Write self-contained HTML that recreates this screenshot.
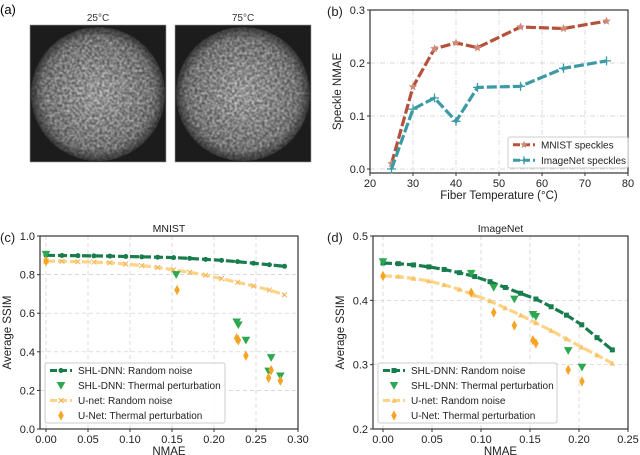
<!DOCTYPE html>
<html><head><meta charset="utf-8">
<style>
html,body{margin:0;padding:0;background:#fff;}
svg{display:block;font-family:"Liberation Sans","DejaVu Sans",sans-serif;}
</style></head>
<body>
<svg id="fig" width="640" height="455" viewBox="0 0 640 455" xmlns="http://www.w3.org/2000/svg">
<defs>
<filter id="speck" x="0" y="0" width="100%" height="100%">
<feTurbulence type="fractalNoise" baseFrequency="0.4" numOctaves="2" seed="3" result="n"/>
<feColorMatrix in="n" type="matrix" values="0 0 0 0 0.85  0 0 0 0 0.85  0 0 0 0 0.85  0 0 0 1.8 -0.55" result="w"/>
<feGaussianBlur in="w" stdDeviation="0.4" result="b"/>
<feComposite in="b" in2="SourceGraphic" operator="in"/>
</filter>
<radialGradient id="glow" cx="0.5" cy="0.5" r="0.5">
<stop offset="0" stop-color="#fff" stop-opacity="1"/>
<stop offset="0.8" stop-color="#fff" stop-opacity="0.7"/>
<stop offset="1" stop-color="#fff" stop-opacity="0.15"/>
</radialGradient>
<radialGradient id="base" cx="0.5" cy="0.5" r="0.5">
<stop offset="0" stop-color="#6a6a6a"/>
<stop offset="0.85" stop-color="#4a4a4a"/>
<stop offset="1" stop-color="#2a2a2a"/>
</radialGradient>
</defs>
<g id="panelA">
<text x="0" y="14" font-size="13">(a)</text>
<text x="98" y="21" font-size="10" text-anchor="middle" fill="#333">25°C</text>
<text x="243" y="21" font-size="10" text-anchor="middle" fill="#333">75°C</text>
<g>
<rect x="30" y="25" width="136" height="137" fill="#1c1c1c" stroke="#999" stroke-width="0.6"/>
<circle cx="98" cy="94" r="67" fill="url(#base)"/>
<circle cx="98" cy="94" r="67" fill="url(#glow)" filter="url(#speck)"/>
</g>
<g>
<rect x="175" y="25" width="136" height="137" fill="#1c1c1c" stroke="#999" stroke-width="0.6"/>
<circle cx="243" cy="94" r="67" fill="url(#base)"/>
<circle cx="243" cy="94" r="67" fill="url(#glow)" filter="url(#speck)"/>
</g>
</g>
</svg>
<script>
// Panel b data
const tempsB = [25,30,35,40,45,55,65,75];
const mnistNmae = [0.01,0.155,0.227,0.238,0.229,0.268,0.265,0.279];
const imagenetNmae = [0.0,0.113,0.134,0.09,0.154,0.156,0.19,0.204];
const xTicksB = [20,30,40,50,60,70,80];
const yTicksB = [0.0,0.1,0.2,0.3];
// Panel c data
const cRandX = [0,0.019,0.038,0.057,0.076,0.095,0.114,0.133,0.152,0.171,0.19,0.209,0.228,0.247,0.266,0.284];
const cShlRand = [0.900,0.899,0.898,0.897,0.896,0.894,0.892,0.89,0.888,0.884,0.879,0.874,0.867,0.859,0.851,0.843];
const cUnetRand = [0.870,0.869,0.867,0.865,0.861,0.855,0.847,0.837,0.825,0.812,0.797,0.779,0.760,0.741,0.720,0.695];
const cThermX = [0,0.155,0.227,0.229,0.238,0.265,0.268,0.279];
const cShlTherm = [0.905,0.80,0.555,0.54,0.46,0.30,0.37,0.275];
const cUnetThermX = [0,0.156,0.227,0.229,0.238,0.265,0.268,0.279];
const cUnetTherm = [0.87,0.72,0.47,0.46,0.38,0.265,0.305,0.25];
const xTicksC = [0,0.05,0.1,0.15,0.2,0.25,0.3];
const yTicksC = [0,0.2,0.4,0.6,0.8,1.0];
// Panel d data
const dRandX = [0,0.0156,0.0312,0.0468,0.0624,0.078,0.0936,0.1092,0.1248,0.1404,0.156,0.1716,0.1872,0.2028,0.2184,0.234];
const dShlRand = [0.458,0.457,0.455,0.452,0.448,0.443,0.437,0.429,0.420,0.411,0.402,0.390,0.377,0.362,0.342,0.323];
const dUnetRand = [0.438,0.437,0.434,0.430,0.424,0.417,0.408,0.399,0.388,0.377,0.365,0.353,0.340,0.327,0.315,0.302];
const dThermX = [0,0.09,0.113,0.134,0.153,0.156,0.189,0.203];
const dShlTherm = [0.46,0.442,0.42,0.402,0.378,0.375,0.322,0.296];
const dUnetTherm = [0.438,0.412,0.381,0.361,0.338,0.333,0.292,0.274];
const xTicksD = [0,0.05,0.1,0.15,0.2,0.25];
const yTicksD = [0.2,0.3,0.4,0.5];

const NS='http://www.w3.org/2000/svg';
const svg=document.getElementById('fig');
function mk(tag,attrs,parent){const e=document.createElementNS(NS,tag);for(const k in attrs)e.setAttribute(k,attrs[k]);(parent||svg).appendChild(e);return e;}
function lin(d0,d1,r0,r1){return v=>r0+(v-d0)/(d1-d0)*(r1-r0);}

function axes(g,p){
  const sx=lin(p.xd[0],p.xd[1],p.x0,p.x1), sy=lin(p.yd[0],p.yd[1],p.y0,p.y1);
  p.xt.forEach(t=>{const X=sx(t);
    const l=mk('line',{x1:X,x2:X,y1:p.top,y2:p.bot,stroke:'#ccc','stroke-width':0.7,'stroke-dasharray':p.dash},g);
    
    mk('line',{x1:X,x2:X,y1:p.bot,y2:p.bot+3,stroke:'#333'},g);
    const tx=mk('text',{x:X,y:p.bot+14,'font-size':11,'text-anchor':'middle',fill:'#222'},g);
    tx.textContent=p.xf(t);
    
  });
  p.yt.forEach(t=>{const Y=sy(t);
    const l=mk('line',{x1:p.left,x2:p.right,y1:Y,y2:Y,stroke:'#ccc','stroke-width':0.7,'stroke-dasharray':p.dash},g);
    
    mk('line',{x1:p.left-3,x2:p.left,y1:Y,y2:Y,stroke:'#333'},g);
    const tx=mk('text',{x:p.left-5,y:Y+4,'font-size':11,'text-anchor':'end',fill:'#222'},g);
    tx.textContent=p.yf(t);
    
  });
  const fr=mk('rect',{x:p.left,y:p.top,width:p.right-p.left,height:p.bot-p.top,fill:'none',stroke:'#333','stroke-width':1.2},g);
  
  const xl=mk('text',{x:(p.left+p.right)/2,y:p.bot+26,'font-size':11.5,'text-anchor':'middle',fill:'#222'},g);
  xl.textContent=p.xlab;
  const yl=mk('text',{x:0,y:0,'font-size':11.5,'text-anchor':'middle',fill:'#222',transform:`translate(${p.left-29},${(p.top+p.bot)/2}) rotate(-90)`},g);
  yl.textContent=p.ylab;
  if(p.title){const t=mk('text',{x:(p.left+p.right)/2,y:p.top-4,'font-size':10.5,'text-anchor':'middle',fill:'#222'},g);
    t.textContent=p.title;}
  const pl=mk('text',{x:p.plx,y:p.top+6,'font-size':13,fill:'#222'},g);
  pl.textContent=p.plab;
  return [sx,sy];
}
function marker(g,type,X,Y,col,s){
  let e;
  if(type==='star'){const pts=[];for(let i=0;i<10;i++){const r=i%2?s*0.45:s;const a=-Math.PI/2+i*Math.PI/5;pts.push((X+r*Math.cos(a)).toFixed(1)+','+(Y+r*Math.sin(a)).toFixed(1));}
    e=mk('polygon',{points:pts.join(' '),fill:col},g);}
  else if(type==='plus'){e=mk('path',{d:`M${X-s},${Y}H${X+s}M${X},${Y-s}V${Y+s}`,stroke:col,'stroke-width':1.3},g);}
  else if(type==='x'){e=mk('path',{d:`M${X-s},${Y-s}L${X+s},${Y+s}M${X-s},${Y+s}L${X+s},${Y-s}`,stroke:col,'stroke-width':1},g);}
  else if(type==='dot'){e=mk('circle',{cx:X,cy:Y,r:s,fill:col},g);}
  else if(type==='sq'){e=mk('rect',{x:X-s,y:Y-s,width:2*s,height:2*s,fill:col},g);}
  else if(type==='tri'){e=mk('polygon',{points:`${X-s},${Y-s*0.8} ${X+s},${Y-s*0.8} ${X},${Y+s}`,fill:col},g);}
  else if(type==='triup'){e=mk('polygon',{points:`${X-s},${Y+s*0.8} ${X+s},${Y+s*0.8} ${X},${Y-s}`,fill:col},g);}
  else if(type==='dia'){e=mk('polygon',{points:`${X},${Y-s*1.4} ${X+s*0.75},${Y} ${X},${Y+s*1.4} ${X-s*0.75},${Y}`,fill:col},g);}
  return e;
}
function series(g,xs,ys,sx,sy,opt){
  if(opt.line){const d=xs.map((x,i)=>(i?'L':'M')+sx(x).toFixed(1)+','+sy(ys[i]).toFixed(1)).join('');
    const l=mk('path',{d,fill:'none',stroke:opt.lc,'stroke-width':opt.lw,'stroke-dasharray':opt.dash},g);
    }
  xs.forEach((x,i)=>{const m=marker(g,opt.m,sx(x),sy(ys[i]),opt.mc,opt.ms);
    });
}
function legend(g,x,y,w,h,items){
  const r=mk('rect',{x,y,width:w,height:h,fill:'#fff','fill-opacity':0.85,stroke:'#ccc',rx:2},g);
  
  const step=h/items.length;
  items.forEach((it,i)=>{const cy=y+step*(i+0.5);
    const eg=mk('g',{},g);
    if(it.line)mk('line',{x1:x+5,x2:x+27,y1:cy,y2:cy,stroke:it.lc,'stroke-width':it.lw,'stroke-dasharray':it.dash},eg);
    marker(eg,it.m,x+16,cy,it.mc,it.ms);
    const t=mk('text',{x:x+33,y:cy+3.5,'font-size':10,fill:'#222'},eg);t.textContent=it.label;
  });
}
const f1=v=>v.toFixed(1), f2=v=>v.toFixed(2), f0=v=>String(v);

// Panel b
const gB=mk('g',{});
const pB={left:370,right:628,top:10,bot:173,x0:370,x1:628,xd:[20,80],y0:169,y1:10,yd:[0,0.3],xt:xTicksB,yt:yTicksB,xf:f0,yf:f1,xlab:'Fiber Temperature (°C)',ylab:'Speckle NMAE',plab:'(b)',plx:327,dash:'5,2,1,2'};
const [bx,by]=axes(gB,pB);
const red='#b5503a', redm='#d08a78', teal='#3a9aa6';
series(gB,tempsB,mnistNmae,bx,by,{line:true,lc:red,lw:3.2,dash:'10,3',m:'star',mc:redm,ms:4.5,name:'mnist-speckles'});
series(gB,tempsB,imagenetNmae,bx,by,{line:true,lc:teal,lw:3.2,dash:'10,3',m:'plus',mc:teal,ms:4.5,name:'imagenet-speckles'});
legend(gB,508,137,120,31,[{line:true,lc:red,lw:3,dash:'7,3',m:'star',mc:redm,ms:4,label:'MNIST speckles'},{line:true,lc:teal,lw:3,dash:'7,3',m:'plus',mc:teal,ms:4,label:'ImageNet speckles'}]);

const dg='#177d4c', lg='#2ea84f', lo='#fdd386', or='#f5a524';
// Panel c
const gC=mk('g',{});
const pC={left:40,right:298,top:236,bot:429,x0:46,x1:298,xd:[0,0.3],y0:429,y1:236,yd:[0,1],xt:xTicksC,yt:yTicksC,xf:f2,yf:f1,xlab:'NMAE',ylab:'Average SSIM',title:'MNIST',plab:'(c)',plx:0,dash:'4,3'};
const [cx,cy]=axes(gC,pC);
series(gC,cRandX,cShlRand,cx,cy,{line:true,lc:dg,lw:3.2,dash:'9,3',m:'dot',mc:dg,ms:2.5,name:'c-shl-random'});
series(gC,cRandX,cUnetRand,cx,cy,{line:true,lc:lo,lw:3.2,dash:'9,3',m:'x',mc:'#f3b560',ms:2.5,name:'c-unet-random'});
series(gC,cThermX,cShlTherm,cx,cy,{m:'tri',mc:lg,ms:4.3,name:'c-shl-thermal'});
series(gC,cUnetThermX,cUnetTherm,cx,cy,{m:'dia',mc:or,ms:3.7,name:'c-unet-thermal'});
legend(gC,45,363,180,60,[{line:true,lc:dg,lw:3,dash:'7,3',m:'dot',mc:dg,ms:2.5,label:'SHL-DNN: Random noise'},{m:'tri',mc:lg,ms:4.3,label:'SHL-DNN: Thermal perturbation'},{line:true,lc:lo,lw:3,dash:'7,3',m:'x',mc:'#f3b560',ms:2.5,label:'U-net: Random noise'},{m:'dia',mc:or,ms:3.7,label:'U-Net: Thermal perturbation'}]);

// Panel d
const gD=mk('g',{});
const pD={left:373,right:628,top:236,bot:429,x0:383,x1:628,xd:[0,0.25],y0:429,y1:236,yd:[0.2,0.5],xt:xTicksD,yt:yTicksD,xf:f2,yf:f1,xlab:'NMAE',ylab:'Average SSIM',title:'ImageNet',plab:'(d)',plx:327,dash:'4,3'};
const [dx,dy]=axes(gD,pD);
series(gD,dRandX,dShlRand,dx,dy,{line:true,lc:dg,lw:3.2,dash:'9,3',m:'sq',mc:dg,ms:2.5,name:'d-shl-random'});
series(gD,dRandX,dUnetRand,dx,dy,{line:true,lc:lo,lw:3.2,dash:'9,3',m:'triup',mc:'#f7c46a',ms:2.8,name:'d-unet-random'});
series(gD,dThermX,dShlTherm,dx,dy,{m:'tri',mc:lg,ms:4.3,name:'d-shl-thermal'});
series(gD,dThermX,dUnetTherm,dx,dy,{m:'dia',mc:or,ms:3.7,name:'d-unet-thermal'});
legend(gD,378,363,179,60,[{line:true,lc:dg,lw:3,dash:'7,3',m:'sq',mc:dg,ms:2.5,label:'SHL-DNN: Random noise'},{m:'tri',mc:lg,ms:4.3,label:'SHL-DNN: Thermal perturbation'},{line:true,lc:lo,lw:3,dash:'7,3',m:'triup',mc:'#f7c46a',ms:2.8,label:'U-net: Random noise'},{m:'dia',mc:or,ms:3.7,label:'U-Net: Thermal perturbation'}]);
</script>
</body></html>
